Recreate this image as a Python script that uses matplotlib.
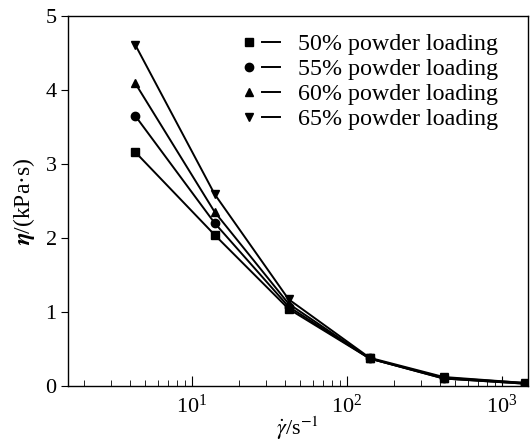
import matplotlib
matplotlib.use("Agg")
import matplotlib.pyplot as plt
from matplotlib.ticker import LogLocator, NullFormatter
from matplotlib.lines import Line2D
from matplotlib.legend_handler import HandlerTuple

plt.rcParams['font.family'] = ['Liberation Serif', 'DejaVu Serif']
plt.rcParams['mathtext.fontset'] = 'stix'

shear_rate = [4.3, 14, 42, 140, 420, 1400]
eta_50 = [3.16, 2.04, 1.04, 0.37, 0.10, 0.03]
eta_55 = [3.65, 2.20, 1.07, 0.37, 0.10, 0.03]
eta_60 = [4.09, 2.35, 1.11, 0.37, 0.11, 0.04]
eta_65 = [4.61, 2.59, 1.17, 0.38, 0.12, 0.04]
labels = ['50% powder loading', '55% powder loading', '60% powder loading', '65% powder loading']
markers = ['s', 'o', '^', 'v']

fig = plt.figure(figsize=(5.30, 4.41), dpi=100)
ax = fig.add_axes([0.128, 0.125, 0.868, 0.839])

handles = []
for vals, lab, m in zip([eta_50, eta_55, eta_60, eta_65], labels, markers):
    ax.plot(shear_rate, vals, color='black', lw=1.4, marker=m, ms=6)
    mk = Line2D([], [], color='black', marker=m, ms=6, ls='none')
    ln = Line2D([], [], color='black', lw=1.4)
    handles.append((mk, ln))

ax.set_xscale('log')
ax.set_xlim(1.58, 1470)
ax.set_ylim(0, 5)
ax.set_yticks([0, 1, 2, 3, 4, 5])
ax.xaxis.set_minor_locator(LogLocator(base=10, subs=range(2, 10)))
ax.xaxis.set_minor_formatter(NullFormatter())
ax.tick_params(axis='x', which='major', direction='in', length=7, labelsize=16, pad=6)
ax.tick_params(axis='x', which='minor', direction='in', length=4)
ax.tick_params(axis='y', which='major', direction='out', length=5, labelsize=16, pad=3)
for s in ax.spines.values():
    s.set_linewidth(1.0)

ax.set_xlabel(r'$\dot{\gamma}$/s$^{-1}$', fontsize=16, labelpad=-2)
ax.set_ylabel(r'$\boldsymbol{\eta}$/(kPa·s)', fontsize=17, labelpad=6)

leg = ax.legend(handles, labels, loc='upper right', bbox_to_anchor=(0.935, 0.952),
                frameon=False, fontsize=17.3, handlelength=1.67, handletextpad=0.75,
                labelspacing=0.13, borderaxespad=0.0, borderpad=0.0,
                handler_map={tuple: HandlerTuple(ndivide=None, pad=0.17)})

fig.savefig('out.png', dpi=100)
